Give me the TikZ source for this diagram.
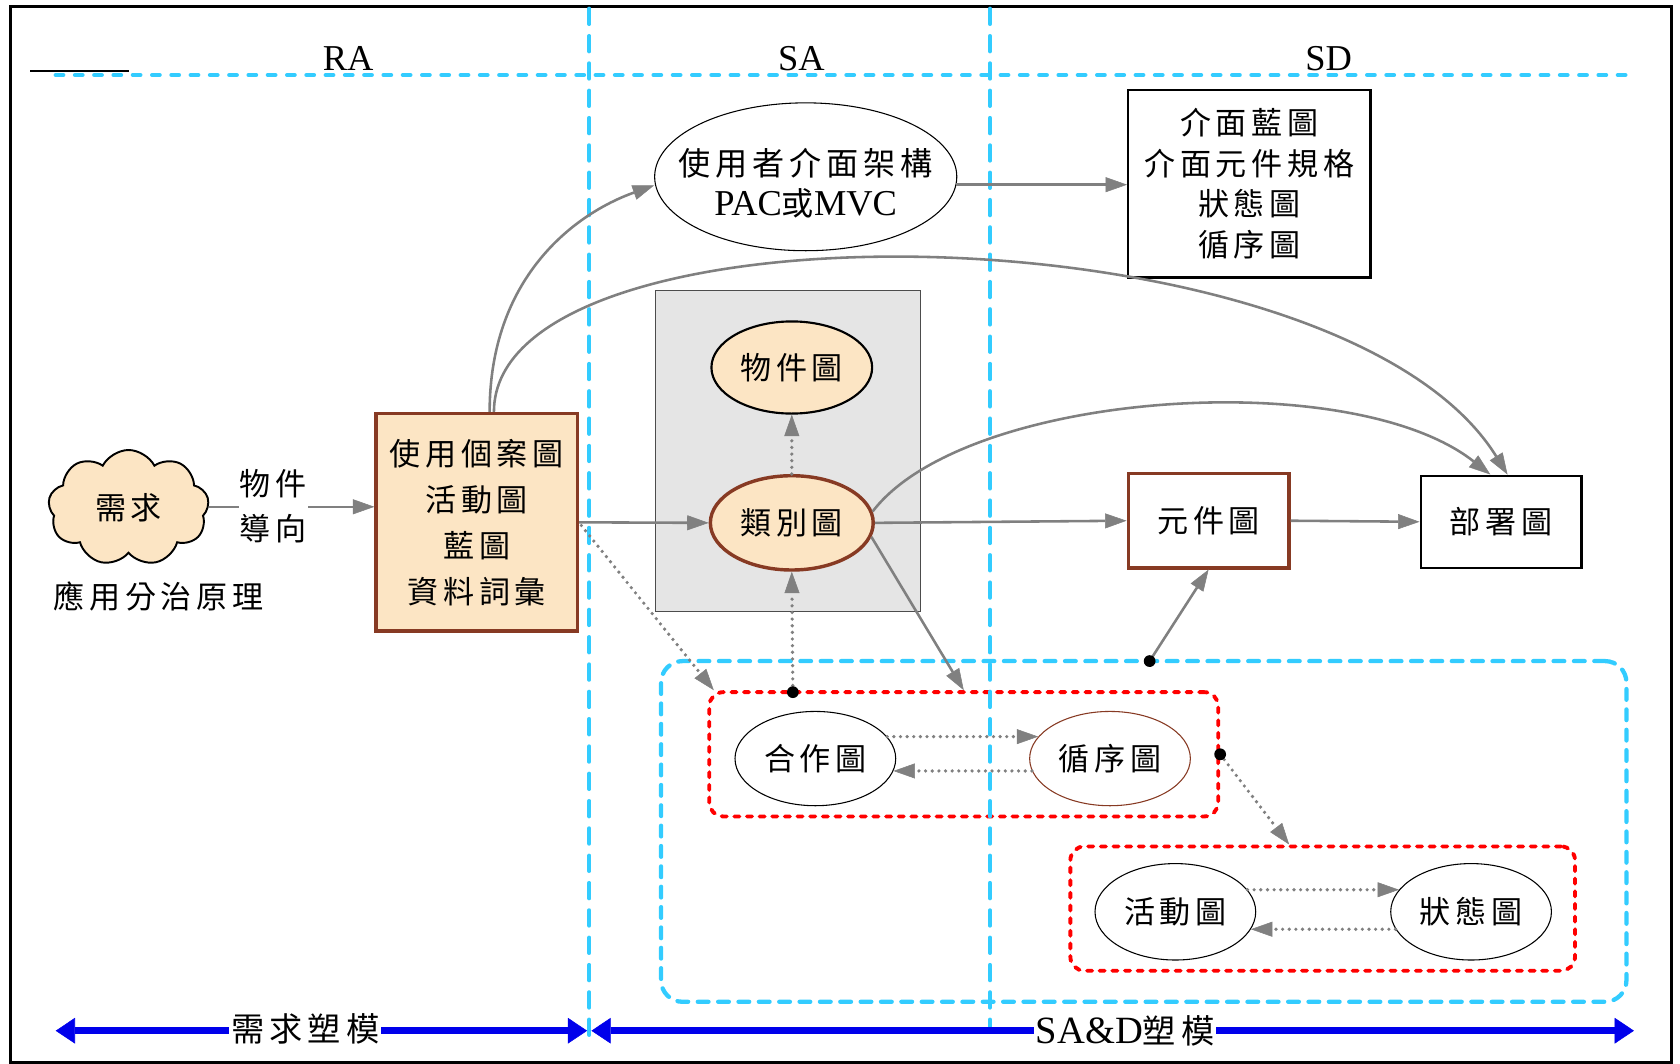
\documentclass[tikz,border=0pt]{standalone}
\usepackage{fontspec}
\setmainfont{Liberation Serif}
\newfontfamily\cjk[LetterSpace=15]{Noto Sans CJK TC}
\usetikzlibrary{arrows.meta,shapes.geometric,shapes.symbols,calc}
\definecolor{beige}{RGB}{252,229,196}
\definecolor{brn}{RGB}{135,58,35}
\definecolor{cgray}{RGB}{128,128,128}
\definecolor{sky}{RGB}{51,204,255}
\definecolor{bblue}{RGB}{0,0,235}
\definecolor{boxgray}{RGB}{229,229,229}
\begin{document}
\begin{tikzpicture}[x=1pt,y=-1pt,
  cj/.style={font=\cjk\fontsize{29}{38}\selectfont},
  lat/.style={font=\rmfamily\fontsize{34}{38}\selectfont},
  conn/.style={draw=cgray,line width=2.4pt,-{Triangle[length=20pt,width=14pt,line width=0.5pt]}},
  dconn/.style={draw=cgray,line width=3.4pt,dash pattern=on 0pt off 6.2pt,line cap=round,-{Triangle[length=20pt,width=14pt,line width=0.5pt]}},
  skyh/.style={draw=sky,line width=4pt,dash pattern=on 7pt off 11pt,line cap=round},
  skyv/.style={draw=sky,line width=3.6pt,dash pattern=on 14.5pt off 11pt,line cap=round},
  grpbox/.style={draw=sky,line width=4pt,dash pattern=on 10pt off 9pt,line cap=round,rounded corners=20pt},
  reddash/.style={draw=red,line width=3.6pt,dash pattern=on 4.8pt off 7pt,line cap=round,rounded corners=13pt},
  ellthin/.style={ellipse,draw,line width=1pt,minimum width=150pt,minimum height=88pt,inner sep=0pt,cj},
  barrow/.style={draw=bblue,line width=7pt,{Triangle[length=18pt,width=24pt,line width=0.5pt]}-{Triangle[length=18pt,width=24pt,line width=0.5pt]}},
  dotmark/.style={fill=black}
]
\useasboundingbox (0,0) rectangle (1568,993);
% frame
\draw[line width=2.8pt] (10,6) rectangle (1560,992);
% header
\draw[line width=2.2pt] (28,66) -- (120,66);
\draw[skyh] (52,70) -- (1528,70);
\node[lat] (ra) at (325,55) {RA};
\node[lat] (sa) at (748,55) {SA};
\node[lat] (sd) at (1240,55) {SD};

% left part
\node[cloud,cloud puffs=9,cloud puff arc=125,cloud ignores aspect,draw,line width=1.8pt,fill=beige,
      minimum width=150pt,minimum height=108pt,inner sep=0pt,cj] (req) at (120,474) {需求};
\node[cj,align=center] (dc) at (148,557) {應用分治原理};
\node[draw=brn,line width=3.2pt,fill=beige,minimum width=188pt,minimum height=203pt,inner sep=0pt,
      align=center,font=\cjk\fontsize{29}{43}\selectfont] (uc) at (445,487.5) {使用個案圖\\活動圖\\藍圖\\資料詞彙};

% SA top ellipse
\node[ellipse,draw,line width=1pt,minimum width=282pt,minimum height=138pt,inner sep=0pt,
      label={[align=center,yshift=-6pt,font=\cjk\fontsize{30}{38}\selectfont]center:{使用者介面架構\\{\rmfamily\fontsize{34}{38}\selectfont PAC}或{\rmfamily\fontsize{34}{38}\selectfont MVC}}}] (pac) at (752,165) {};
\node[draw,line width=2.2pt,minimum width=226pt,minimum height=175pt,align=center,
      font=\cjk\fontsize{29}{38}\selectfont] (ifc) at (1166,171.5) {介面藍圖\\介面元件規格\\狀態圖\\循序圖};

% gray box
\node[draw=black!70,line width=1pt,fill=boxgray,minimum width=247pt,minimum height=300pt] (gbox) at (735.5,421) {};
\node[ellipse,draw,line width=2pt,fill=beige,minimum width=150pt,minimum height=86pt,inner sep=0pt,cj] (obj) at (739,343) {物件圖};
\node[ellipse,draw=brn,line width=3.2pt,fill=beige,minimum width=152pt,minimum height=88pt,inner sep=0pt,cj] (cls) at (739,488) {類別圖};

\node[draw=brn,line width=3.2pt,minimum width=150pt,minimum height=88pt,cj] (cmp) at (1128,486) {元件圖};
\node[draw,line width=2.2pt,minimum width=150pt,minimum height=86pt,cj] (dep) at (1401,487) {部署圖};

% group boxes
\node[grpbox,minimum width=901pt,minimum height=318pt] (grp) at (1067.5,776) {};
\node[reddash,minimum width=475pt,minimum height=116pt] (r1) at (899.5,704) {};
\node[reddash,minimum width=471pt,minimum height=116pt] (r2) at (1234.5,848) {};
\node[ellthin] (co) at (761,708) {合作圖};
\node[ellthin,draw=brn] (seq) at (1036,708) {循序圖};
\node[ellthin,minimum height=90pt] (act) at (1097,851) {活動圖};
\node[ellthin,minimum height=90pt] (st) at (1373,851) {狀態圖};

% phase separators
\draw[skyv] (550,8) -- (550,975);
\draw[skyv] (924,8) -- (924,958);

% connection points
\coordinate (d1) at (740,646);
\coordinate (d2) at (r1.east);
\coordinate (d3) at (1073,617);

% connectors
\draw[conn] (req.east |- 0,473) -- (uc.west |- 0,473);
\node[cj,fill=white,inner sep=1pt,align=center,font=\cjk\fontsize{29}{42}\selectfont] (oo) at (255,472) {物件\\導向};

\draw[conn] ($(uc.north)+(12,0)$) .. controls (457,260) and (535,200) .. ($(pac.west)+(0,8)$);
\draw[conn] ($(uc.north)+(16,0)$) .. controls (461,180) and (1250,190) .. ($(dep.north)+(6,0)$);
\draw[conn] (uc.east) -- (cls.west);
\draw[dconn] ($(uc.east)+(2,3)$) -- ($(r1.north west)+(6,0)$);
\draw[dconn] (cls.north) -- (obj.south);
\draw[dconn] (d1) -- (cls.south);
\draw[conn] (cls.east) -- (cmp.west);
\draw[conn] (cls.8) .. controls (900,365) and (1260,340) .. ($(dep.north)+(-10,0)$);
\draw[conn] (cls.-10) -- (r1.north);
\draw[conn] (cmp.east) -- (dep.west);
\draw[conn] (d3) -- (cmp.south);
\draw[conn] (pac.-3) -- (pac.-3 -| ifc.west);
\draw[dconn] (co.17) -- (seq.163);
\draw[dconn] (seq.189) -- (co.-9);
\draw[dconn] (d2) -- ($(r2.north west)+(206,0)$);
\draw[dconn] (act.17) -- (st.163);
\draw[dconn] (st.193) -- (act.-13);

\fill[dotmark] (d1) circle (5.5pt);
\fill[dotmark] (d2) circle (5.5pt);
\fill[dotmark] (d3) circle (5.5pt);

% bottom arrows
\coordinate (bl1) at (52,962);
\coordinate (bl2) at (548,962);
\coordinate (bl3) at (552,962);
\coordinate (bl4) at (1525,962);
\draw[barrow] (bl1) -- (bl2);
\draw[barrow] (bl3) -- (bl4);
\node[fill=white,inner sep=2pt,font=\cjk\fontsize{31}{36}\selectfont] (lm) at (285,960) {需求塑模};
\node[fill=white,inner sep=2pt,font=\cjk\fontsize{31}{36}\selectfont] (sm) at (1050,962) {{\rmfamily\fontsize{36}{40}\selectfont SA\&D}塑模};
\end{tikzpicture}
\end{document}
